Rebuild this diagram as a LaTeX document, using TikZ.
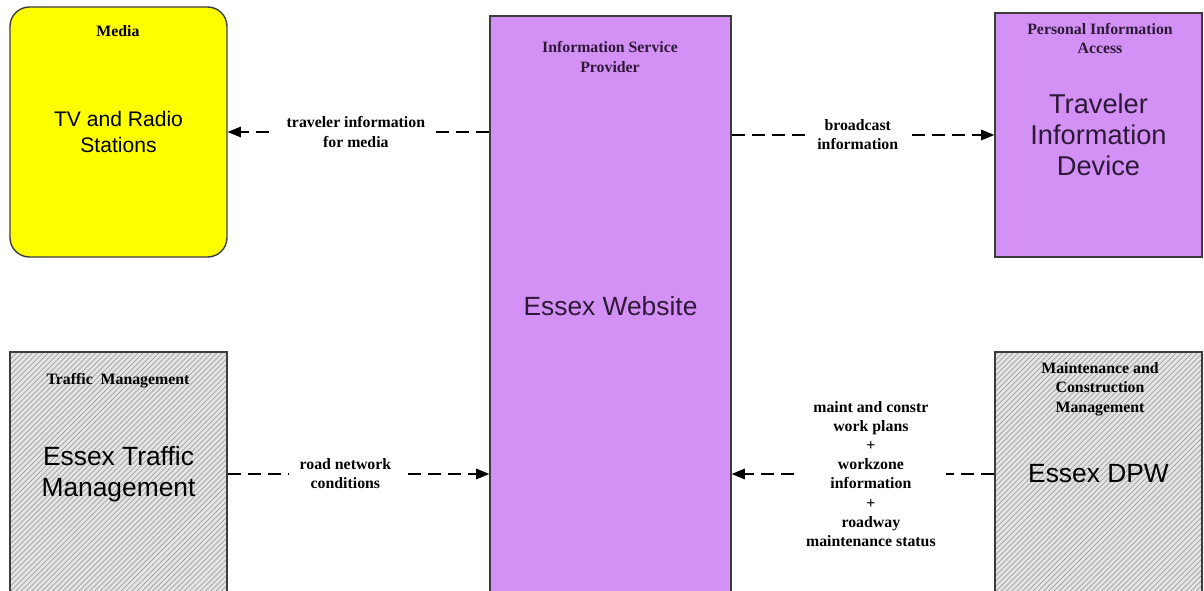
\documentclass[tikz,border=0pt]{standalone}
\usepackage{fontspec}
\setmainfont{Liberation Serif}
\setsansfont{Liberation Sans}
\usetikzlibrary{positioning,arrows.meta,patterns}
\definecolor{esxyellow}{RGB}{255,255,0}
\definecolor{esxpurple}{RGB}{212,145,245}
\definecolor{esxgray}{RGB}{228,228,228}
\definecolor{esxhatch}{RGB}{160,160,160}
\definecolor{esxline}{RGB}{60,60,60}
\definecolor{esxink}{RGB}{45,25,55}

\begin{document}
\begin{tikzpicture}[x=0.02cm,y=-0.02cm,
  box/.style={draw=esxline,line width=0.8pt,rectangle,align=center,font=\sffamily\fontsize{15}{17.6}\selectfont},
  hatched/.style={box,preaction={fill=esxgray},pattern=north east lines,pattern color=esxhatch},
  title/.style={align=center,font=\bfseries\fontsize{9}{11}\selectfont},
  flow/.style={line width=0.85pt,dash pattern=on 7.4pt off 4pt,-{Triangle[length=7.5pt,width=6pt]}},
  flowlabel/.style={fill=white,align=center,inner xsep=6pt,inner ysep=3pt,font=\bfseries\fontsize{9}{10.9}\selectfont}]
\useasboundingbox (0,0) rectangle (1204,591);

% Media
\node[box,fill=esxyellow,rounded corners=11pt,minimum width=4.34cm,minimum height=5cm,font=\sffamily\fontsize{12}{14.7}\selectfont] (media) at (118.5,132) {TV and Radio\\Stations};
\node[title] (mediatitle) at (118,31) {Media};

% Information service provider
\node[box,fill=esxpurple,text=esxink,minimum width=4.82cm,minimum height=11.6cm] (isp) at (610.5,306) {Essex Website};
\node[title,text=esxink] (isptitle) at (610,57) {Information Service\\Provider};

% Personal information access
\node[box,fill=esxpurple,text=esxink,minimum width=4.14cm,minimum height=4.88cm,font=\sffamily\fontsize{15.5}{17.6}\selectfont] (tid) at (1098.5,135) {Traveler\\Information\\Device};
\node[title,text=esxink] (tidtitle) at (1100,38.5) {Personal Information\\Access};

% Traffic management
\node[hatched,minimum width=4.34cm,minimum height=4.88cm] (tmc) at (118.5,474) {Essex Traffic\\Management};
\node[title] (tmctitle) at (118,381) {Traffic~ Management};

% Maintenance and construction management
\node[hatched,minimum width=4.14cm,minimum height=4.88cm] (dpw) at (1098.5,474) {Essex DPW};
\node[title] (dpwtitle) at (1100,389) {Maintenance and\\Construction\\Management};

% Flows
\draw[flow] (media.east -| isp.west) -- node[flowlabel,pos=0.51] {traveler information\\for media} (media.east);
\draw[flow] (tid.west -| isp.east) -- node[flowlabel,pos=0.48] {broadcast\\information} (tid.west);
\draw[flow] (tmc.east) -- node[flowlabel,pos=0.45] {road network\\conditions} (tmc.east -| isp.west);
\draw[flow] (dpw.west) -- node[flowlabel,pos=0.47] {maint and constr\\work plans\\+\\workzone\\information\\+\\roadway\\maintenance status} (dpw.west -| isp.east);
\end{tikzpicture}
\end{document}
